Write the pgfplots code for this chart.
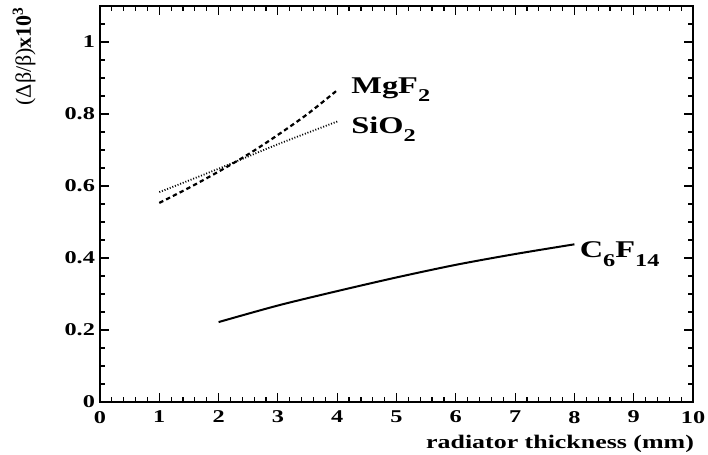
\documentclass[border=0pt]{standalone}
\usepackage{fontspec}
\setmainfont{Liberation Serif}[FakeStretch=1.35]
\newfontfamily\ylabfont{Liberation Serif}
\usepackage{pgfplots}
\pgfplotsset{compat=1.18}
\newcommand\sub[1]{\raisebox{-0.35em}{\fontsize{9}{10}\selectfont #1}}

\begin{document}
\begin{tikzpicture}
\begin{axis}[
  name=ax,
  scale only axis,
  width=296.5pt, height=198pt,
  xmin=0, xmax=10, ymin=0, ymax=1.1,
  xtick distance=1, ytick distance=0.2,
  minor x tick num=4, minor y tick num=3,
  tick align=inside,
  major tick length=4.5pt, minor tick length=2.5pt,
  axis line style={line width=1pt},
  every tick/.style={black, line width=0.6pt},
  /pgf/number format/assume math mode=true,
  tick label style={font=\fontsize{9}{10}\selectfont\bfseries},
  xticklabel style={yshift=-1pt},
  yticklabel style={xshift=1pt},
  xlabel={radiator thickness (mm)},
  xlabel style={at={(rel axis cs:1,0)}, anchor=north east, yshift=-13pt, xshift=4pt,
    font=\fontsize{9.6}{11}\selectfont\bfseries},
]
\addplot[black, line width=1pt, smooth] coordinates {
  (2,0.222) (3,0.268) (4,0.308) (5,0.346) (6,0.381) (7,0.411) (8,0.438)};
\addplot[black, line width=1.1pt, smooth, dash pattern=on 2.2pt off 1.6pt] coordinates {
  (1,0.553) (1.5,0.595) (2,0.640) (2.5,0.688) (3,0.742) (3.5,0.800) (4,0.866)};
\addplot[black, line width=0.9pt, smooth, dash pattern=on 0.5pt off 0.9pt] coordinates {
  (1,0.583) (2,0.648) (3,0.716) (4,0.779)};
\node[anchor=base west, font=\fontsize{12}{14}\selectfont\bfseries, inner sep=1pt]
  at (axis cs:4.2,0.858) {MgF\sub{2}};
\node[anchor=base west, font=\fontsize{12}{14}\selectfont\bfseries, inner sep=1pt]
  at (axis cs:4.2,0.746) {SiO\sub{2}};
\node[anchor=base west, font=\fontsize{12}{14}\selectfont\bfseries, inner sep=1pt]
  at (axis cs:8.05,0.400) {C\sub{6}F\sub{14}};
\end{axis}
\node[rotate=90, anchor=south east, inner sep=0pt, font=\fontsize{11}{13}\selectfont]
  at ([shift={(-32pt,0pt)}]ax.north west) {\ylabfont (Δβ/β)\textbf{x10\textsuperscript{3}}};
\pgfresetboundingbox
\path ([shift={(-50pt,-26.5pt)}]ax.south west) rectangle ([shift={(304pt,201pt)}]ax.south west);
\end{tikzpicture}
\end{document}
